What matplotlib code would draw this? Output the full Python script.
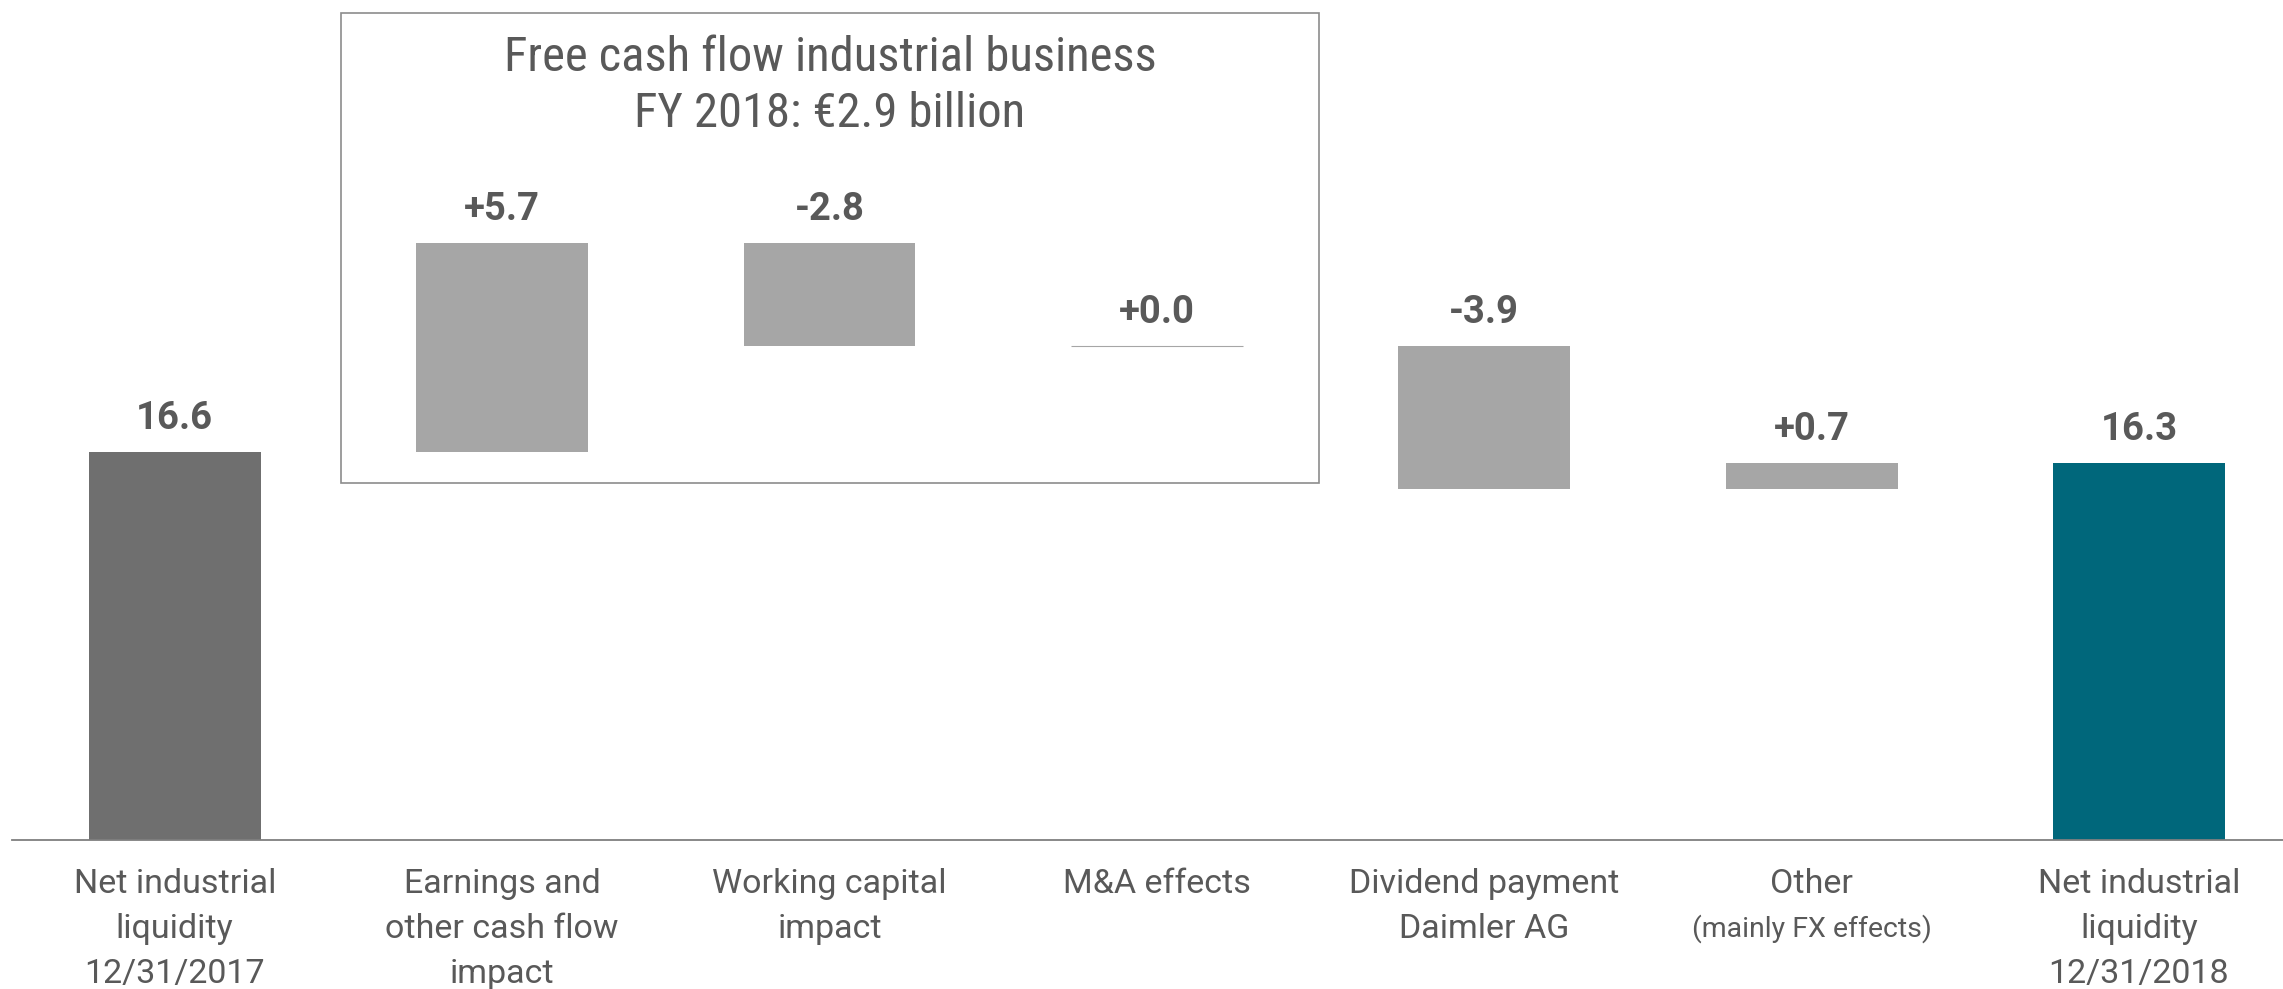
import matplotlib
matplotlib.use("Agg")
import matplotlib.pyplot as plt
from matplotlib.patches import Rectangle
from matplotlib import font_manager

# ---------------- data ----------------
category_lines = [
    ["Net industrial", "liquidity", "12/31/2017"],
    ["Earnings and", "other cash flow", "impact"],
    ["Working capital", "impact"],
    ["M&A effects"],
    ["Dividend payment", "Daimler AG"],
    ["Other", "(mainly FX effects)"],
    ["Net industrial", "liquidity", "12/31/2018"],
]
start_value = 16.6
deltas = [5.7, -2.8, 0.0, -3.9, 0.7]
end_value = 16.3
box_title = ["Free cash flow industrial business", "FY 2018: \u20ac2.9 billion"]

# ---------------- style ----------------
W, H, DPI = 22.83, 9.89, 100
TXT = "#595959"
C_START = "#6f6f6f"
C_DELTA = "#a6a6a6"
C_END = "#00677b"

def pick(names):
    for n in names:
        try:
            font_manager.findfont(n, fallback_to_default=False)
            return n
        except Exception:
            pass
    return "DejaVu Sans"

FONT = pick(["Roboto", "Lato", "DejaVu Sans"])
NARROW = pick(["Liberation Sans Narrow", "Roboto Condensed", "DejaVu Sans Condensed", FONT])
plt.rcParams["font.family"] = [FONT, "DejaVu Sans"]

fig = plt.figure(figsize=(W, H), dpi=DPI)
px_w, px_h = W * DPI, H * DPI
base_px = 840.0
ax = fig.add_axes([12 / px_w, 1 - base_px / px_h, 1 - 12 / px_w, base_px / px_h])

y_bottom = 6.03
y_top = y_bottom + base_px / 36.7
ax.set_ylim(y_bottom, y_top)
ax.set_xlim(-0.497, 6.44)

bw = 0.525
# start bar
ax.bar(0, start_value - y_bottom, bottom=y_bottom, width=bw, color=C_START, zorder=2)
level = start_value
tops = [start_value]
for i, d in enumerate(deltas, start=1):
    lo = min(level, level + d)
    ax.bar(i, abs(d), bottom=lo, width=bw, color=C_DELTA,
           edgecolor=C_DELTA, linewidth=0.8 if d == 0 else 0, zorder=2)
    tops.append(max(level, level + d))
    level += d
ax.bar(6, end_value - y_bottom, bottom=y_bottom, width=bw, color=C_END, zorder=2)
tops.append(end_value)

labels = ["%.1f" % start_value] + ["%+.1f" % d for d in deltas] + ["%.1f" % end_value]
for i, (t, lab) in enumerate(zip(tops, labels)):
    ax.annotate(lab, (i, t), xytext=(0, 24), textcoords="offset points",
                ha="center", va="center", fontsize=27.5, fontweight="bold", color=TXT)

for s in ["top", "right", "left"]:
    ax.spines[s].set_visible(False)
ax.spines["bottom"].set_color("#7f7f7f")
ax.spines["bottom"].set_linewidth(1.3)
ax.set_xticks([])
ax.set_yticks([])

# category labels
line_px = 45.0
first_px = 884.0
for i, lines in enumerate(category_lines):
    for j, ln in enumerate(lines):
        ypx = first_px + j * line_px
        small = ln.startswith("(")
        ax.annotate(ln, (i, 0), xycoords=("data", "axes fraction"),
                    xytext=(0, -(ypx - base_px) * 72 / DPI), textcoords="offset points",
                    ha="center", va="center", fontsize=20.5 if small else 24.5,
                    color=TXT)

# box
bx0, bx1, by0, by1 = 341, 1319, 13, 483
fig.patches.append(Rectangle((bx0 / px_w, 1 - by1 / px_h), (bx1 - bx0) / px_w, (by1 - by0) / px_h,
                             transform=fig.transFigure, fill=False, edgecolor="#8c8c8c",
                             linewidth=1.2, zorder=1))
for k, t in enumerate(box_title):
    fig.text((bx0 + bx1) / 2 / px_w, 1 - (58 + 56 * k) / px_h, t, ha="center", va="center",
             fontsize=35, color=TXT, family=[NARROW, "DejaVu Sans"])

fig.savefig("out.png", dpi=DPI)
